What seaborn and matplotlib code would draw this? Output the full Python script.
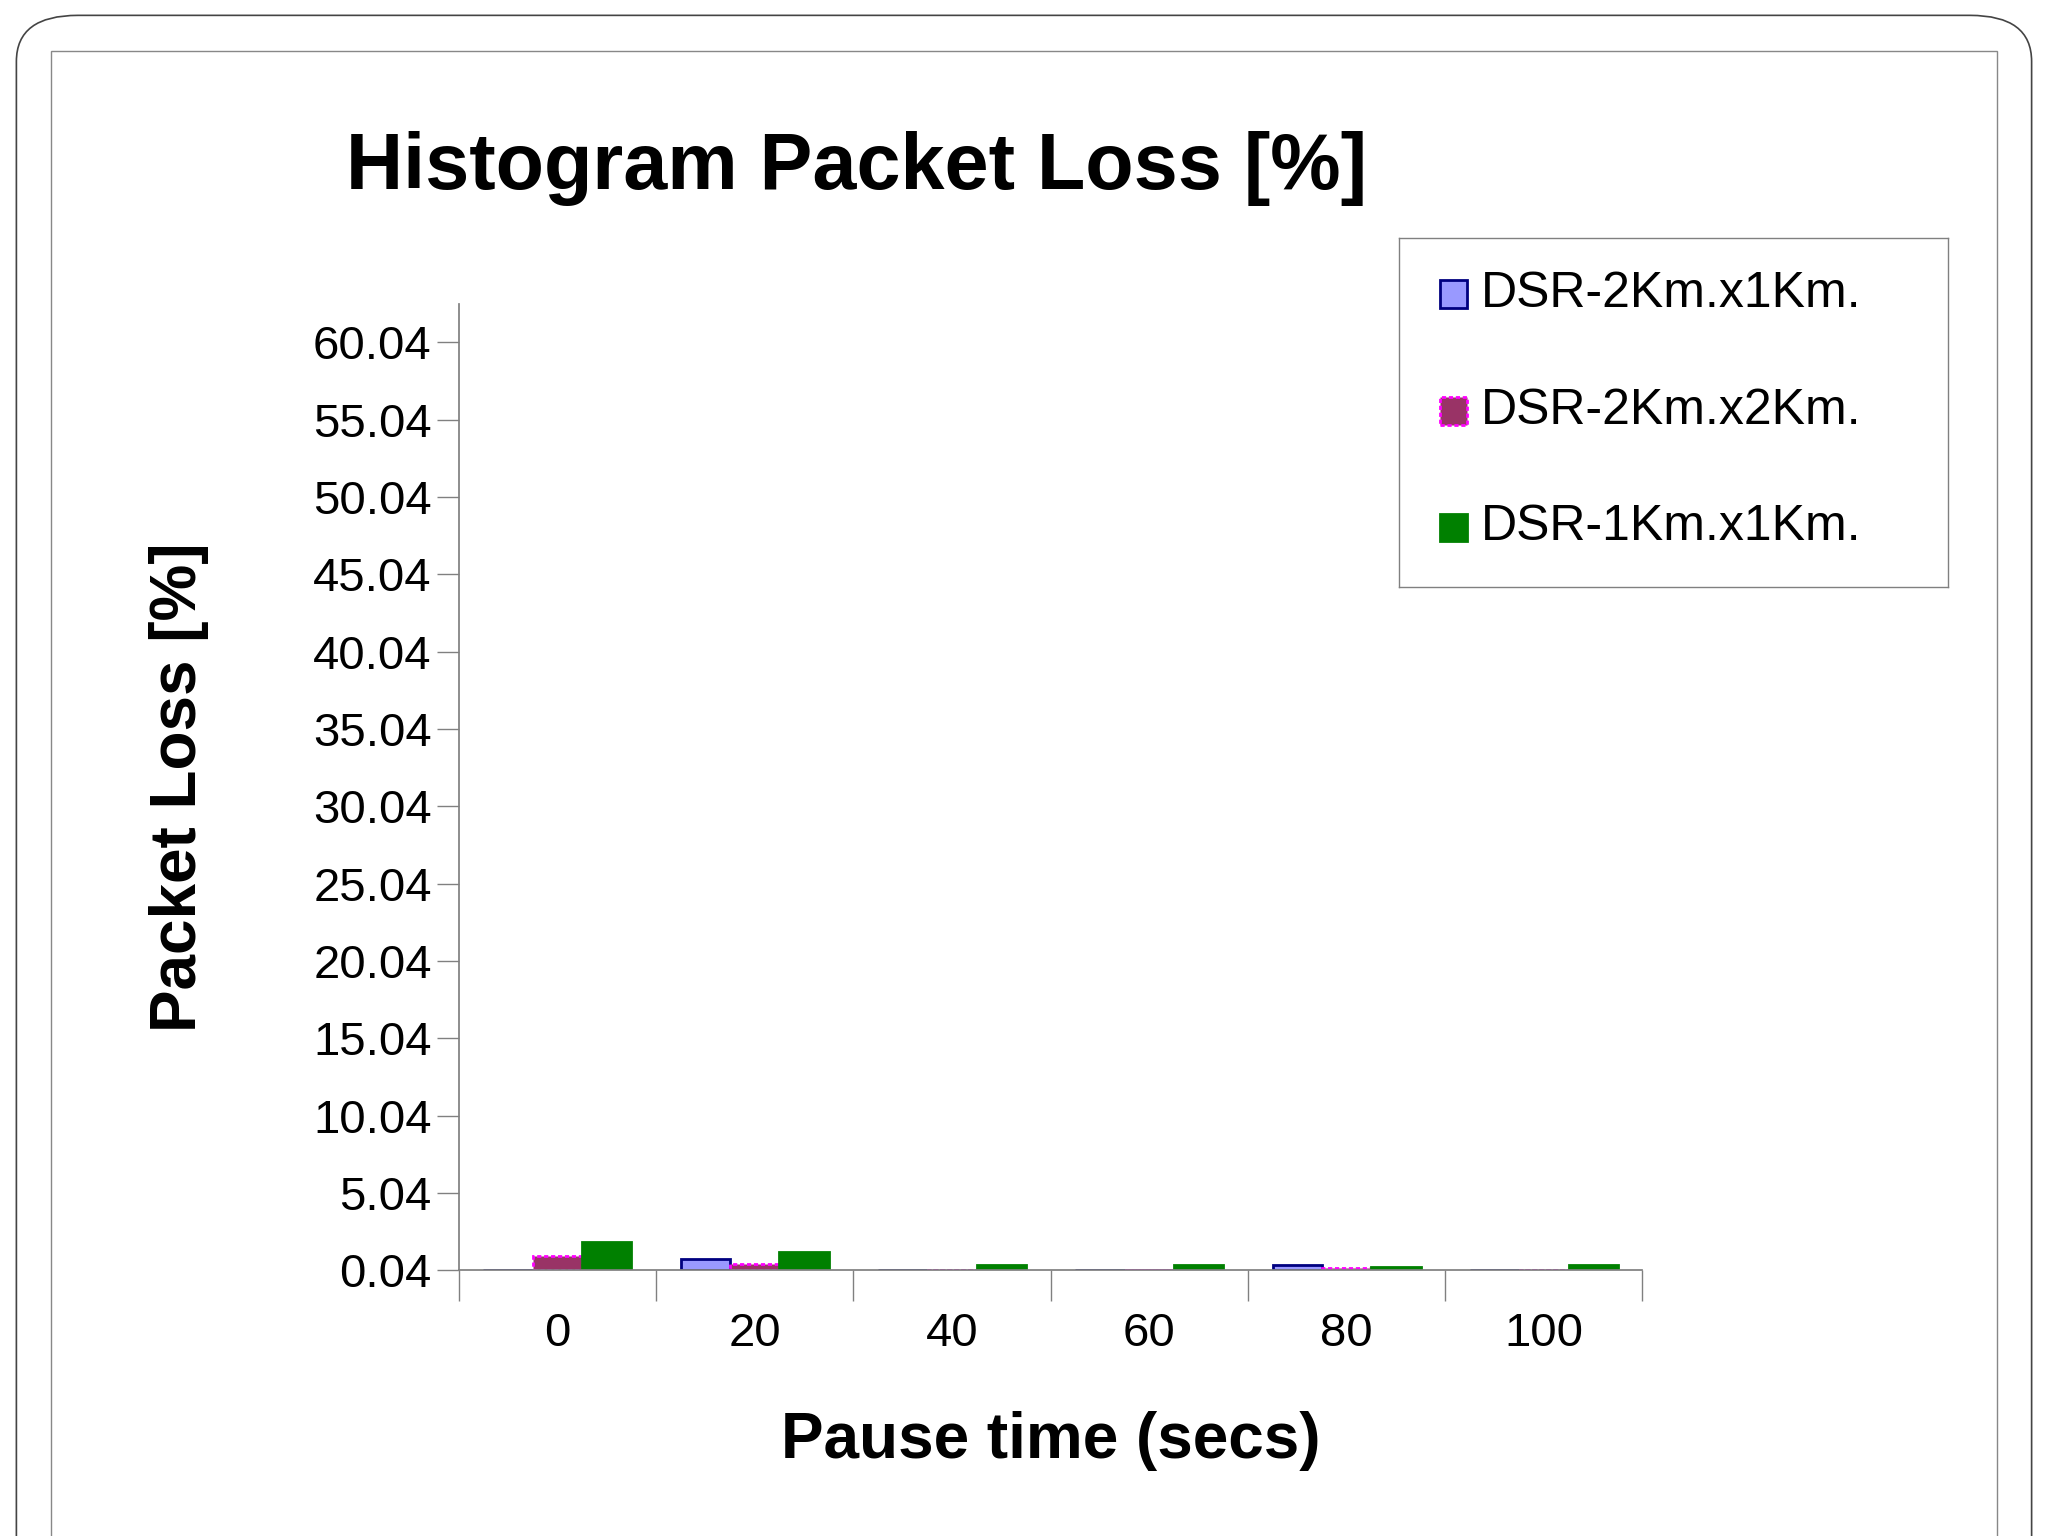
import numpy as np
import pandas as pd
import matplotlib
matplotlib.use('Agg')
import matplotlib.pyplot as plt
import seaborn as sns
from matplotlib.patches import FancyBboxPatch, Rectangle

pause = ['0', '20', '40', '60', '80', '100']
series = ['DSR-2Km.x1Km.', 'DSR-2Km.x2Km.', 'DSR-1Km.x1Km.']
loss_2x1 = [0.04, 0.80, 0.05, 0.05, 0.40, 0.05]
loss_2x2 = [0.95, 0.45, 0.06, 0.06, 0.18, 0.06]
loss_1x1 = [1.85, 1.25, 0.35, 0.35, 0.22, 0.35]
base = 0.04

df = pd.DataFrame({
    'pause': pause * 3,
    'series': np.repeat(series, 6),
    'loss': loss_2x1 + loss_2x2 + loss_1x1,
})
df['h'] = df['loss'] - base

sns.set_theme(style='white')
plt.rcParams['font.family'] = ['Liberation Sans', 'DejaVu Sans']
plt.rcParams['text.color'] = 'black'
plt.rcParams['xtick.color'] = 'black'
plt.rcParams['ytick.color'] = 'black'
plt.rcParams['axes.labelcolor'] = 'black'

fig = plt.figure(figsize=(20.48, 15.36), dpi=100)
# slide frame (behind the axes)
fig.patches.append(FancyBboxPatch((0.008, -0.05), 0.984, 1.04, boxstyle='round,pad=0,rounding_size=0.03',
                                  transform=fig.transFigure, fill=False, ec='#444444', lw=1.2, zorder=-10))
fig.patches.append(Rectangle((0.025, -0.01), 0.95, 0.977, transform=fig.transFigure,
                             fill=False, ec='#888888', lw=1, zorder=-10))

ax = fig.add_axes([0.224, 0.173, 0.578, 0.629])
colors = ['#9999ff', '#993366', '#008000']
edges = ['#000080', '#ff00ff', '#008000']
sns.barplot(data=df, x='pause', y='h', hue='series', palette=colors, bottom=base,
            width=0.75, ax=ax, legend=False, saturation=1)
for i, cont in enumerate(ax.containers):
    for b in cont:
        b.set_edgecolor(edges[i])
        b.set_linewidth(2)
        if i == 1:
            b.set_linestyle((0, (1.5, 1)))

ax.set_ylim(base, 62.5)
ax.set_xlim(-0.5, 5.5)
ax.set_yticks(np.arange(0, 61, 5) + base)
ax.set_yticklabels([f'{v + base:.2f}' for v in np.arange(0, 61, 5)])
ax.set_xticks(np.arange(-0.5, 6, 1), minor=True)
ax.tick_params(axis='x', which='minor', length=22, width=1, color='#808080', bottom=True)
ax.tick_params(axis='x', which='major', length=0, pad=30, labelsize=34)
ax.tick_params(axis='y', which='major', length=16, width=1, color='#808080', left=True, labelsize=34)
for s in ['top', 'right']:
    ax.spines[s].set_visible(False)
ax.spines['left'].set_color('#808080')
ax.spines['bottom'].set_color('#808080')
ax.set_xlabel('Pause time (secs)', fontsize=46, fontweight='bold', labelpad=40)
ax.set_ylabel('Packet Loss [%]', fontsize=46, fontweight='bold', labelpad=75)
ax.patch.set_alpha(0)

fig.text(0.418, 0.89, 'Histogram Packet Loss [%]', fontsize=57, fontweight='bold', ha='center', va='center')

# legend
lax = fig.add_axes([0.683, 0.618, 0.268, 0.227])
lax.set_xlim(0, 1); lax.set_ylim(0, 1)
lax.set_xticks([]); lax.set_yticks([])
for s in lax.spines.values():
    s.set_color('#808080'); s.set_linewidth(1)
for i, name in enumerate(series):
    y = 0.84 - i * 0.335
    lax.add_patch(Rectangle((0.075, y - 0.04), 0.05, 0.08, fc=colors[i], ec=edges[i], lw=2,
                            ls=(0, (1.5, 1)) if i == 1 else '-'))
    lax.text(0.15, y, name, fontsize=36, va='center', ha='left')

fig.savefig('out.png', dpi=100)
